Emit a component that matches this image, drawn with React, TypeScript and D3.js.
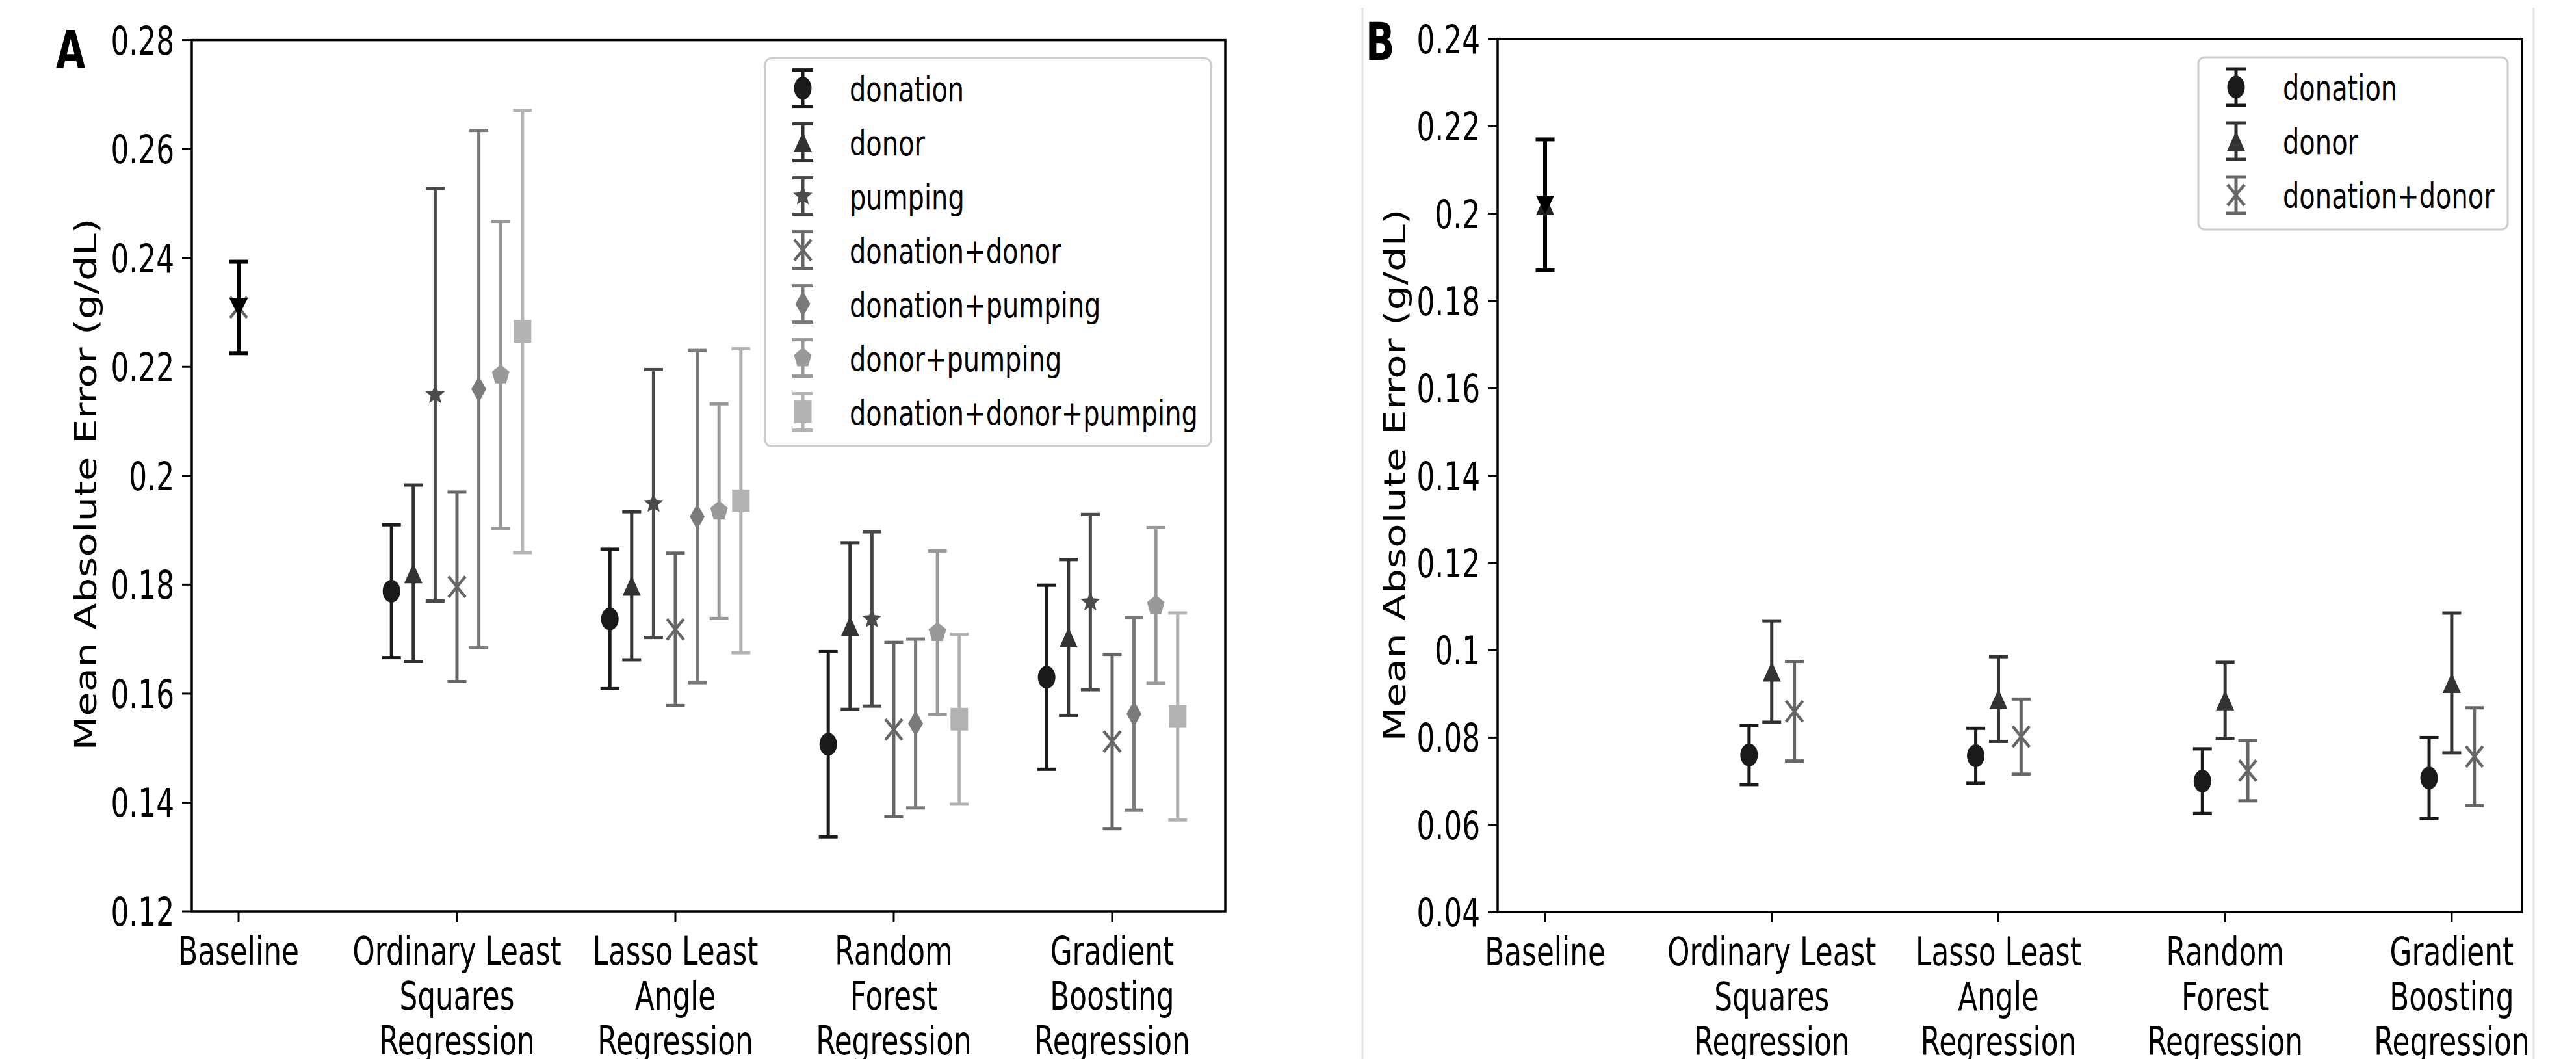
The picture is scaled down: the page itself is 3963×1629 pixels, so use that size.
import * as d3 from "d3";

const FONT = "'DejaVu Sans', sans-serif";
// the whole figure looks squeezed horizontally, so text is drawn narrower
const SX = 0.73;

const categoryLines = [
  ["Baseline"],
  ["Ordinary Least", "Squares", "Regression"],
  ["Lasso Least", "Angle", "Regression"],
  ["Random", "Forest", "Regression"],
  ["Gradient", "Boosting", "Regression"],
];

// ---- panel A ----
const seriesA = [
  "donation",
  "donor",
  "pumping",
  "donation+donor",
  "donation+pumping",
  "donor+pumping",
  "donation+donor+pumping",
];
const shapesA = ["circle", "triangle", "star", "x", "thinDiamond", "pentagon", "square"];
const colorsA = ["#1a1a1a", "#333333", "#4a4a4a", "#666666", "#7a7a7a", "#999999", "#b3b3b3"];
const baselineMeanA = 0.2309;
const baselineErrA = 0.0084;
// values for OLS, Lasso, Random Forest, Gradient Boosting
const meanA = [
  [0.1788, 0.1737, 0.1507, 0.163],
  [0.1821, 0.1798, 0.1724, 0.1703],
  [0.2149, 0.1949, 0.1737, 0.1768],
  [0.1796, 0.1718, 0.1534, 0.1512],
  [0.2159, 0.1925, 0.1545, 0.1563],
  [0.2185, 0.1935, 0.1712, 0.1762],
  [0.2265, 0.1954, 0.1553, 0.1558],
];
const errA = [
  [0.0122, 0.0128, 0.017, 0.0169],
  [0.0162, 0.0136, 0.0153, 0.0143],
  [0.0379, 0.0246, 0.016, 0.0161],
  [0.0174, 0.014, 0.016, 0.016],
  [0.0475, 0.0305, 0.0155, 0.0177],
  [0.0282, 0.0197, 0.015, 0.0143],
  [0.0406, 0.0279, 0.0156, 0.019],
];
const yTicksA = [0.12, 0.14, 0.16, 0.18, 0.2, 0.22, 0.24, 0.26, 0.28];

// ---- panel B ----
const seriesB = ["donation", "donor", "donation+donor"];
const shapesB = ["circle", "triangle", "x"];
const colorsB = ["#1a1a1a", "#333333", "#666666"];
const baselineMeanB = 0.202;
const baselineErrB = 0.015;
const meanB = [
  [0.076, 0.0758, 0.07, 0.0707],
  [0.0951, 0.0888, 0.0885, 0.0925],
  [0.086, 0.0802, 0.0724, 0.0756],
];
const errB = [
  [0.0068, 0.0063, 0.0074, 0.0093],
  [0.0116, 0.0097, 0.0087, 0.016],
  [0.0114, 0.0086, 0.0069, 0.0112],
];
const yTicksB = [0.04, 0.06, 0.08, 0.1, 0.12, 0.14, 0.16, 0.18, 0.2, 0.22, 0.24];

// marker sizes in screen px (w, h)
const markerSize = {
  circle: [27, 35],
  triangle: [28, 31],
  triangleDown: [28, 28],
  star: [30, 29],
  x: [26, 32],
  thinDiamond: [23, 40],
  pentagon: [27, 29],
  square: [27, 35],
};

function markerPath(shape, w, h) {
  const p = d3.path();
  const hw = w / 2,
    hh = h / 2;
  if (shape === "triangle") {
    p.moveTo(0, -hh);
    p.lineTo(hw, hh);
    p.lineTo(-hw, hh);
    p.closePath();
  } else if (shape === "triangleDown") {
    p.moveTo(0, hh);
    p.lineTo(hw, -hh);
    p.lineTo(-hw, -hh);
    p.closePath();
  } else if (shape === "square") {
    p.rect(-hw, -hh, w, h);
  } else if (shape === "thinDiamond") {
    p.moveTo(0, -hh);
    p.lineTo(hw, 0);
    p.lineTo(0, hh);
    p.lineTo(-hw, 0);
    p.closePath();
  } else if (shape === "x") {
    p.moveTo(-hw, -hh);
    p.lineTo(hw, hh);
    p.moveTo(hw, -hh);
    p.lineTo(-hw, hh);
  } else if (shape === "pentagon" || shape === "star") {
    // circumcentred, bbox is 1.902 wide and 1.809 tall for unit radius
    const sx = w / 1.902,
      sy = h / 1.809;
    const pts = shape === "pentagon" ? 5 : 10;
    for (let k = 0; k < pts; k++) {
      const a = ((-90 + (360 / pts) * k) * Math.PI) / 180;
      const r = shape === "star" && k % 2 === 1 ? 0.45 : 1;
      const px = Math.cos(a) * r * sx,
        py = Math.sin(a) * r * sy;
      if (k === 0) p.moveTo(px, py);
      else p.lineTo(px, py);
    }
    p.closePath();
  }
  return p.toString();
}

const Marker = ({ shape, cx, cy, color }) => {
  const [w, h] = markerSize[shape];
  if (shape === "circle")
    return <ellipse cx={cx} cy={cy} rx={w / 2} ry={h / 2} fill={color} />;
  if (shape === "x")
    return (
      <path
        transform={`translate(${cx},${cy})`}
        d={markerPath(shape, w, h)}
        fill="none"
        stroke={color}
        strokeWidth={4.5}
      />
    );
  return <path transform={`translate(${cx},${cy})`} d={markerPath(shape, w, h)} fill={color} />;
};

const ErrBar = ({ cx, y1, y2, color, cap = 29, lw = 5 }) => (
  <g stroke={color} strokeWidth={lw}>
    <line x1={cx} x2={cx} y1={y1} y2={y2} />
    <line x1={cx - cap / 2} x2={cx + cap / 2} y1={y1} y2={y1} />
    <line x1={cx - cap / 2} x2={cx + cap / 2} y1={y2} y2={y2} />
  </g>
);

const Txt = ({ x, y, size, anchor = "start", weight = "normal", rotate = 0, sx = SX, children }) => (
  <text
    transform={`translate(${x},${y}) scale(${sx},1)${rotate ? ` rotate(${rotate})` : ""}`}
    fontSize={size}
    fontFamily={FONT}
    fontWeight={weight}
    textAnchor={anchor}
    fill="#000"
  >
    {children}
  </text>
);

const Panel = (p) => {
  const x = d3.scaleLinear().domain(p.xDomain).range([p.left, p.right]);
  const y = d3.scaleLinear().domain(p.yDomain).range([p.bottom, p.top]);
  const n = p.series.length;
  const off = (k) => (k - (n - 1) / 2) * 0.1;
  const rowH = 83;
  const legH = 46 + (n - 1) * rowH + 53;
  const legX = p.right - 22 - p.legendW;
  const legY = p.top + 28;

  return (
    <g>
      {/* y ticks */}
      {p.yTicks.map((t) => (
        <g key={t}>
          <line x1={p.left - 15} x2={p.left} y1={y(t)} y2={y(t)} stroke="#000" strokeWidth={3} />
          <Txt x={p.left - 27} y={y(t) + 22} size={60} anchor="end">
            {String(t)}
          </Txt>
        </g>
      ))}
      {/* x ticks */}
      {categoryLines.map((lines, i) => (
        <g key={i}>
          <line x1={x(i)} x2={x(i)} y1={p.bottom} y2={p.bottom + 16} stroke="#000" strokeWidth={3} />
          {lines.map((s, j) => (
            <Txt key={j} x={x(i)} y={p.bottom + 82 + j * 69} size={60} anchor="middle">
              {s}
            </Txt>
          ))}
        </g>
      ))}
      <Txt x={p.ylabelX} y={p.ylabelY} size={61} anchor="middle" rotate={-90} sx={0.76}>
        Mean Absolute Error (g/dL)
      </Txt>
      <Txt x={p.letterX} y={p.letterY} size={80} weight="bold">
        {p.letter}
      </Txt>

      {/* baseline */}
      <ErrBar
        cx={x(0)}
        y1={y(p.baselineMean + p.baselineErr)}
        y2={y(p.baselineMean - p.baselineErr)}
        color="#000"
        lw={6}
      />
      {p.baselineShapes.map((s, k) => (
        <Marker key={k} shape={s} cx={x(0)} cy={y(p.baselineMean)} color={p.baselineColors[k]} />
      ))}

      {/* series */}
      {p.series.map((name, k) => (
        <g key={name}>
          {p.means[k].map((m, i) => {
            const cx = x(i + 1 + off(k));
            return (
              <g key={i}>
                <ErrBar cx={cx} y1={y(m + p.errs[k][i])} y2={y(m - p.errs[k][i])} color={p.colors[k]} />
                <Marker shape={p.shapes[k]} cx={cx} cy={y(m)} color={p.colors[k]} />
              </g>
            );
          })}
        </g>
      ))}

      <rect
        x={p.left}
        y={p.top}
        width={p.right - p.left}
        height={p.bottom - p.top}
        fill="none"
        stroke="#000"
        strokeWidth={3.5}
      />

      {/* legend */}
      <rect
        x={legX}
        y={legY}
        width={p.legendW}
        height={legH}
        rx={10}
        fill="#fff"
        fillOpacity={0.85}
        stroke="#cccccc"
        strokeWidth={3}
      />
      {p.series.map((name, k) => {
        const cy = legY + 46 + k * rowH;
        const mx = legX + 58;
        return (
          <g key={name}>
            <ErrBar cx={mx} y1={cy - 28} y2={cy + 28} color={p.colors[k]} cap={32} />
            <Marker shape={p.shapes[k]} cx={mx} cy={cy} color={p.colors[k]} />
            <Txt x={legX + 130} y={cy + 20} size={54} sx={0.74}>
              {name}
            </Txt>
          </g>
        );
      })}
    </g>
  );
};

export default function App() {
  return (
    <svg
      width={3963}
      height={1629}
      style={{ position: "absolute", left: 0, top: 0, background: "#fff" }}
    >
      <rect width={3963} height={1629} fill="#fff" />
      <line x1={2096} x2={2096} y1={12} y2={1629} stroke="#e4e4e4" strokeWidth={3} />
      <line x1={3898} x2={3898} y1={12} y2={1629} stroke="#e4e4e4" strokeWidth={3} />
      <Panel
        letter="A"
        letterX={86}
        letterY={105}
        left={295}
        right={1885}
        top={61.6}
        bottom={1402}
        xDomain={[-0.2143, 4.518]}
        yDomain={[0.12, 0.28]}
        yTicks={yTicksA}
        ylabelX={148}
        ylabelY={745}
        series={seriesA}
        shapes={shapesA}
        colors={colorsA}
        means={meanA}
        errs={errA}
        baselineMean={baselineMeanA}
        baselineErr={baselineErrA}
        baselineShapes={["x", "triangleDown"]}
        baselineColors={["#666666", "#000000"]}
        legendW={686}
      />
      <Panel
        letter="B"
        letterX={2101}
        letterY={92}
        left={2304}
        right={3880}
        top={60}
        bottom={1403}
        xDomain={[-0.2094, 4.31]}
        yDomain={[0.04, 0.24]}
        yTicks={yTicksB}
        ylabelX={2162}
        ylabelY={731}
        series={seriesB}
        shapes={shapesB}
        colors={colorsB}
        means={meanB}
        errs={errB}
        baselineMean={baselineMeanB}
        baselineErr={baselineErrB}
        baselineShapes={["triangle", "triangleDown"]}
        baselineColors={["#222222", "#000000"]}
        legendW={476}
      />
    </svg>
  );
}
